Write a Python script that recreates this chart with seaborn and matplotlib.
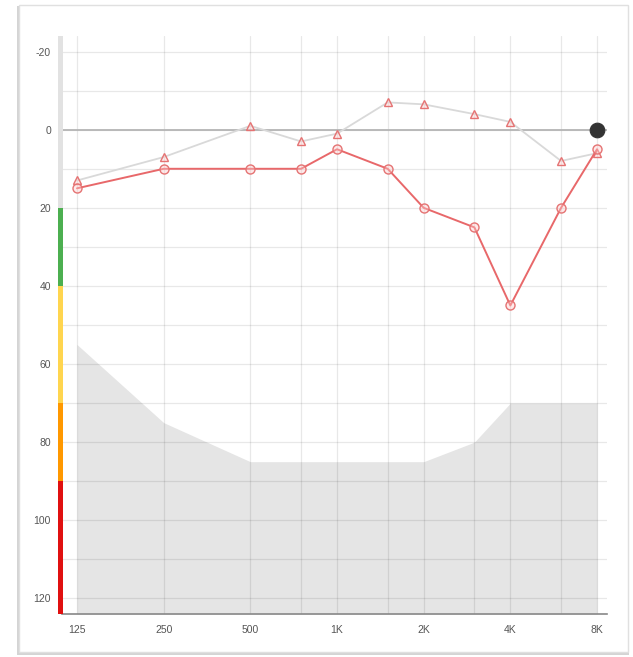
import matplotlib
matplotlib.use("Agg")
import matplotlib.pyplot as plt
from matplotlib.patches import Rectangle
from matplotlib.ticker import NullFormatter
import seaborn as sns
import pandas as pd

# ---- data ----
freqs = [125, 250, 500, 750, 1000, 1500, 2000, 3000, 4000, 6000, 8000]
tick_freqs = [125, 250, 500, 1000, 2000, 4000, 8000]
tick_labels = ["125", "250", "500", "1K", "2K", "4K", "8K"]
grid_freqs = [750, 1500, 3000, 6000]
red_values = [15, 10, 10, 10, 5, 10, 20, 25, 45, 20, 5]
gray_values = [13, 7, -1, 3, 1, -7, -6.5, -4, -2, 8, 6]
mask_freqs = [125, 250, 500, 1000, 2000, 3000, 4000, 8000]
mask_values = [55, 75, 85, 85, 85, 80, 70, 70]
dot_freq = [8000]
dot_value = [0]
band_edges = [-24, 20, 40, 70, 90, 124]
band_colors = ["#e2e2e2", "#4caf50", "#ffd54f", "#ff9800", "#e01010"]
y_ticks = [-20, 0, 20, 40, 60, 80, 100, 120]

sns.set_theme(style="white")
plt.rcParams["font.family"] = ["Liberation Sans", "DejaVu Sans"]
plt.rcParams["axes.unicode_minus"] = False

fig = plt.figure(figsize=(6.33, 6.57), dpi=100)
fig.patch.set_facecolor("white")

# card with shadow
fig.add_artist(Rectangle((17 / 633, 2 / 657), 612 / 633, 649 / 657,
                         transform=fig.transFigure, facecolor="#d4d4d4", edgecolor="none", zorder=-3))
fig.add_artist(Rectangle((19 / 633, 5 / 657), 609 / 633, 647 / 657,
                         transform=fig.transFigure, facecolor="white", edgecolor="#e0e0e0",
                         linewidth=1.0, zorder=-2))

ax = fig.add_axes([62 / 633, 1 - 614 / 657, (607 - 62) / 633, (614 - 36) / 657])
ax.set_zorder(1)
ax.set_facecolor("none")
ax.set_xscale("log", base=2)
ax.set_xlim(125 / 2 ** 0.173, 8000 * 2 ** 0.115)
ax.set_ylim(124, -24)

# masking area
ax.fill_between(mask_freqs, mask_values, 124, color="#e5e5e5", linewidth=0, zorder=0.1)

# grid
ax.set_xticks(tick_freqs)
ax.set_xticklabels(tick_labels)
ax.set_xticks(grid_freqs, minor=True)
ax.xaxis.set_minor_formatter(NullFormatter())
ax.set_yticks(y_ticks)
ax.set_yticks(list(range(-10, 121, 20)), minor=True)
ax.yaxis.set_minor_formatter(NullFormatter())
ax.grid(True, which="both", color="black", alpha=0.09, linewidth=0.9)
ax.set_axisbelow(True)
ax.axhline(0, color="#b5b5b5", linewidth=1.3, zorder=2)

# series
df_gray = pd.DataFrame({"freq": freqs, "db": gray_values})
df_red = pd.DataFrame({"freq": freqs, "db": red_values})
sns.lineplot(data=df_gray, x="freq", y="db", ax=ax, color="#d9d9d9", linewidth=1.3,
             marker="^", markersize=6, markerfacecolor=(1, 0.8, 0.8, 0.4),
             markeredgecolor="#e57373", markeredgewidth=1.0, zorder=3)
sns.lineplot(data=df_red, x="freq", y="db", ax=ax, color="#e8686a", linewidth=1.4,
             marker="o", markersize=6.5, markerfacecolor=(1, 0.8, 0.8, 0.4),
             markeredgecolor="#e57373", markeredgewidth=1.0, zorder=4)
sns.scatterplot(x=dot_freq, y=dot_value, ax=ax, color="#333333", s=110, zorder=5,
                edgecolor="#333333", clip_on=False)

# colored severity bar on left
ytr = ax.get_yaxis_transform()
for i, c in enumerate(band_colors):
    ax.add_patch(Rectangle((-0.007, band_edges[i]), 0.008, band_edges[i + 1] - band_edges[i],
                           transform=ytr, facecolor=c, edgecolor="none", clip_on=False, zorder=6))

for s in ["top", "right", "left"]:
    ax.spines[s].set_visible(False)
ax.spines["bottom"].set_color("#888888")
ax.spines["bottom"].set_linewidth(1.2)

ax.tick_params(axis="both", which="both", length=0, labelsize=7.5, colors="#555555")
ax.tick_params(axis="y", pad=8)
ax.tick_params(axis="x", pad=8)
ax.set_xlabel("")
ax.set_ylabel("")

fig.savefig("out.png", dpi=100)
